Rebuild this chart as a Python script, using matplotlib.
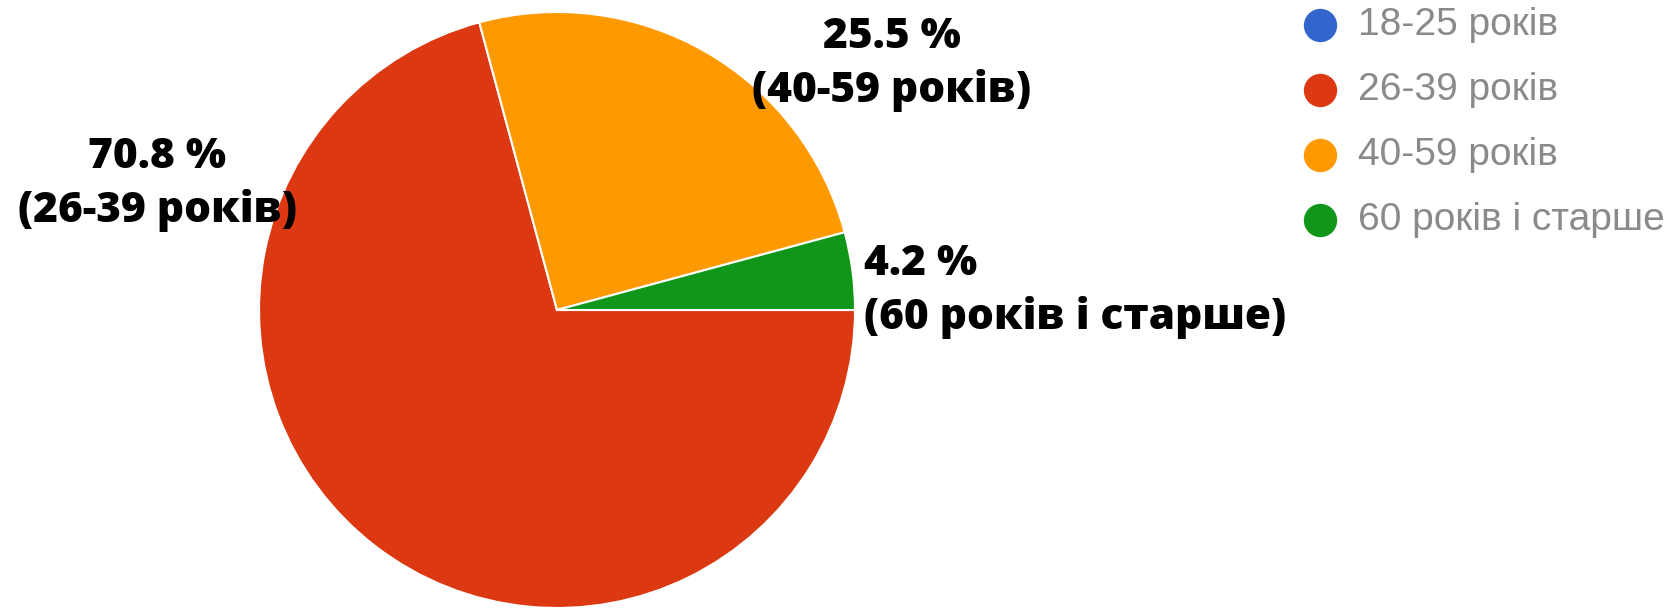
import matplotlib.pyplot as plt

# age groups as shown in the legend
groups = ['18-25 років', '26-39 років', '40-59 років', '60 років і старше']
colors = ['#3366cc', '#dc3912', '#ff9900', '#109618']
# printed percentages
pct_text = ['0 %', '70.8 %', '25.5 %', '4.2 %']
# slice sizes as drawn (orange wedge looks like a quarter of the pie)
shares = [0.0, 70.8, 25.0, 4.2]

W, H = 1679, 608
fig = plt.figure(figsize=(W / 100, H / 100), dpi=100)
ax = fig.add_axes([0, 0, 1, 1])

# y axis is flipped below, so this runs clockwise on screen from 3 o'clock
drawn = [(s, c) for s, c in zip(shares, colors) if s > 0]
ax.pie([d[0] for d in drawn], colors=[d[1] for d in drawn],
       startangle=0, counterclock=True, center=(557, 310), radius=298,
       wedgeprops=dict(edgecolor='white', linewidth=1.5), frame=True)
ax.set_xlim(0, W)
ax.set_ylim(H, 0)
ax.set_aspect('equal')
ax.axis('off')

# outside labels: (x, baseline of first line, alignment)
label_pos = {1: (157, 168, 'center'), 2: (892, 48, 'center'), 3: (864, 275, 'left')}
lab_font = dict(family=['Open Sans', 'DejaVu Sans'], fontweight='heavy', fontsize=30.5, color='black')
for i, (x, y, ha) in label_pos.items():
    ax.text(x, y, pct_text[i], ha=ha, va='baseline', **lab_font)
    ax.text(x, y + 54, '(' + groups[i] + ')', ha=ha, va='baseline', **lab_font)

# legend on the right
for i, (g, c) in enumerate(zip(groups, colors)):
    yy = 25 + 65 * i
    ax.plot(1320, yy, 'o', ms=24, color=c, mec='none', clip_on=False)
    ax.text(1358, yy, g, ha='left', va='center', fontsize=28,
            family=['Liberation Sans', 'DejaVu Sans'], color='#8a8a8a')

fig.savefig('out.png', dpi=100)
